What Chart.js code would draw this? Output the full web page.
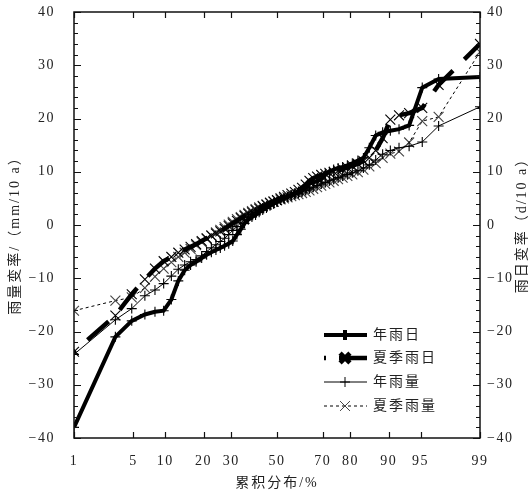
<!DOCTYPE html>
<html><head><meta charset="utf-8">
<script src="https://cdn.jsdelivr.net/npm/chart.js@4/dist/chart.umd.min.js"></script>
<style>html,body{margin:0;padding:0;background:#fff}</style>
</head><body>
<canvas id="c" width="531" height="499"></canvas>
<script>
// ---------- data ----------
const xTicks = [1, 5, 10, 20, 30, 50, 70, 80, 90, 95, 99];
const yTicks = [-40, -30, -20, -10, 0, 10, 20, 30, 40];
const seriesNames = ['年雨日', '夏季雨日', '年雨量', '夏季雨量'];
const xTitle = '累积分布/%';
const yLeftTitle = '雨量变率/（mm/10 a）';
const yRightTitle = '雨日变率（d/10 a）';

const cumPct = [1, 3.2, 4.8, 6.5, 8.1, 9.7, 11.3, 12.9, 14.5, 16.1, 17.7, 19.4, 21, 22.6, 24.2, 25.8, 27.4, 29, 30.6, 32.3,
  33.9, 35.5, 37.1, 38.7, 40.3, 41.9, 43.5, 45.2, 46.8, 48.4, 50, 51.6, 53.2, 54.8, 56.5, 58.1, 59.7, 61.3, 62.9, 64.5,
  66.1, 67.7, 69.4, 71, 72.6, 74.2, 75.8, 77.4, 79, 80.6, 82.3, 83.9, 85.5, 87.1, 88.7, 90.3, 91.9, 93.5, 95.2, 96.8, 99];

const annualRainDays = [-38, -21, -18, -16.8, -16.3, -16.1, -14, -10.5, -8.5, -7.5, -6.9, -6.2, -5.6, -5.1, -4.7, -4.3, -3.9, -3.5, -3.0, -1.8,
  -0.8, 0.3, 1.0, 1.5, 1.9, 2.4, 2.8, 3.2, 3.6, 4.0, 4.3, 4.7, 5.0, 5.3, 5.6, 6.0, 6.3, 6.5, 7.0, 7.8,
  8.0, 8.2, 8.6, 9.6, 10.0, 10.4, 10.7, 10.9, 11.2, 11.6, 12.1, 12.6, 14.5, 16.8, 17.4, 17.7, 18.0, 18.7, 25.8, 27.4, 27.8];

const summerRainDays = [-23.8, -17, -13, -10.2, -8.2, -6.8, -6.0, -5.2, -4.6, -4.1, -3.6, -3.0, -2.5, -2.0, -1.6, -1.2, -0.7, -0.2, 0.3, 0.8,
  1.3, 1.7, 2.1, 2.4, 2.8, 3.1, 3.5, 3.8, 4.1, 4.4, 4.7, 5.0, 5.3, 5.6, 5.9, 6.2, 6.6, 7.0, 7.6, 8.3,
  8.8, 9.1, 9.4, 9.6, 9.8, 10.0, 10.2, 10.5, 10.8, 11.1, 11.5, 12.0, 12.6, 14.0, 16.3, 19.8, 20.6, 21.0, 22.0, 26.3, 34];

const annualRainfall = [-24.3, -17.8, -15.7, -13.3, -12.2, -11.0, -9.6, -8.3, -7.5, -6.9, -6.5, -5.8, -5.0, -4.3, -3.7, -3.1, -2.5, -1.8, -1.0, -0.3,
  0.4, 1.0, 1.5, 2.0, 2.4, 2.8, 3.2, 3.5, 3.8, 4.1, 4.4, 4.7, 5.0, 5.2, 5.4, 5.7, 5.9, 6.2, 6.5, 6.8,
  7.1, 7.4, 7.7, 8.0, 8.3, 8.6, 8.9, 9.2, 9.5, 9.8, 10.2, 10.7, 11.3, 12.2, 13.3, 14.0, 14.5, 14.8, 15.6, 18.6, 22.2];

const summerRainfall = [-16.1, -14.2, -13.6, -11.8, -9.7, -8.2, -7.0, -6.0, -5.2, -4.5, -3.8, -3.2, -2.6, -2.0, -1.4, -0.9, -0.4, 0.1, 0.6, 1.1,
  1.5, 1.9, 2.3, 2.6, 3.0, 3.3, 3.6, 3.9, 4.2, 4.4, 4.6, 4.8, 5.0, 5.2, 5.4, 5.6, 5.8, 6.0, 6.2, 6.5,
  6.8, 7.1, 7.4, 7.7, 8.0, 8.3, 8.6, 8.9, 9.2, 9.5, 9.9, 10.4, 11.0, 11.6, 12.6, 13.4, 13.8, 15.5, 19.5, 20.3, 32.5];

// ---------- probability (probit) scale ----------
function probit(p) {
  const a = [-3.969683028665376e+01, 2.209460984245205e+02, -2.759285104469687e+02, 1.383577518672690e+02, -3.066479806614716e+01, 2.506628277459239e+00];
  const b = [-5.447609879822406e+01, 1.615858368580409e+02, -1.556989798598866e+02, 6.680131188771972e+01, -1.328068155288572e+01];
  const c = [-7.784894002430293e-03, -3.223964580411365e-01, -2.400758277161838e+00, -2.549732539343734e+00, 4.374664141464968e+00, 2.938163982698783e+00];
  const d = [7.784695709041462e-03, 3.224671290700398e-01, 2.445134137142996e+00, 3.754408661907416e+00];
  const pl = 0.02425, ph = 1 - pl;
  let q, r;
  if (p < pl) { q = Math.sqrt(-2 * Math.log(p)); return (((((c[0]*q+c[1])*q+c[2])*q+c[3])*q+c[4])*q+c[5]) / ((((d[0]*q+d[1])*q+d[2])*q+d[3])*q+1); }
  if (p <= ph) { q = p - 0.5; r = q*q; return (((((a[0]*r+a[1])*r+a[2])*r+a[3])*r+a[4])*r+a[5])*q / (((((b[0]*r+b[1])*r+b[2])*r+b[3])*r+b[4])*r+1); }
  q = Math.sqrt(-2 * Math.log(1 - p)); return -(((((c[0]*q+c[1])*q+c[2])*q+c[3])*q+c[4])*q+c[5]) / ((((d[0]*q+d[1])*q+d[2])*q+d[3])*q+1);
}
function normCdf(z) {
  const t = 1 / (1 + 0.2316419 * Math.abs(z));
  const y = 0.3989423 * Math.exp(-z*z/2) * t * (0.3193815 + t*(-0.3565638 + t*(1.781478 + t*(-1.821256 + t*1.330274))));
  return z > 0 ? 1 - y : y;
}
class ProbitScale extends Chart.Scale {
  determineDataLimits() { this.min = this.options.min; this.max = this.options.max; }
  buildTicks() { return xTicks.map(v => ({ value: v })); }
  getLabelForValue(v) { return String(v); }
  _z() { return [probit(this.min / 100), probit(this.max / 100)]; }
  getPixelForValue(v) { const [z0, z1] = this._z(); return this.getPixelForDecimal((probit(v / 100) - z0) / (z1 - z0)); }
  getValueForPixel(px) { const [z0, z1] = this._z(); return 100 * normCdf(z0 + this.getDecimalForPixel(px) * (z1 - z0)); }
}
ProbitScale.id = 'probit';
ProbitScale.defaults = {};
Chart.register(ProbitScale);

// ---------- helpers ----------
const pts = ys => cumPct.map((x, i) => ({ x, y: ys[i] }));
const NUM_FONT = '"Liberation Serif", "DejaVu Serif", serif';
const CJK_FONT = '"Liberation Serif", "Noto Sans CJK SC", sans-serif';
const TXT = '#222';

const styles = [
  { borderWidth: 4, borderDash: [], pointStyle: 'cross', pointRadius: 5, yAxisID: 'y2' },
  { borderWidth: 4.5, borderDash: [28, 16], borderDashOffset: 26, pointStyle: 'crossRot', pointRadius: 7, yAxisID: 'y2' },
  { borderWidth: 1, borderDash: [], pointStyle: 'cross', pointRadius: 5, yAxisID: 'y' },
  { borderWidth: 1, borderDash: [3, 3], pointStyle: 'crossRot', pointRadius: 7, yAxisID: 'y' }
];
const seriesData = [annualRainDays, summerRainDays, annualRainfall, summerRainfall];

const datasets = seriesData.map((ys, i) => Object.assign({
  label: seriesNames[i],
  data: pts(ys),
  borderColor: '#000',
  backgroundColor: '#000',
  pointBorderColor: i === 3 ? '#444' : '#000',
  pointBorderWidth: 1.1,
  tension: 0,
  fill: false
}, styles[i]));

const decorPlugin = {
  id: 'decor',
  beforeDraw(chart) { chart.ctx.letterSpacing = '1.5px'; },
  afterDatasetsDraw(chart) {
    const { ctx, chartArea: a, scales } = chart;
    ctx.save();
    ctx.strokeStyle = '#111';
    ctx.lineWidth = 1.5;
    ctx.strokeRect(a.left, a.top, a.right - a.left, a.bottom - a.top);
    ctx.lineWidth = 1.2;
    ctx.beginPath();
    xTicks.forEach(v => {
      const px = Math.round(scales.x.getPixelForValue(v)) + 0.5;
      ctx.moveTo(px, a.bottom); ctx.lineTo(px, a.bottom - 6);
      ctx.moveTo(px, a.top); ctx.lineTo(px, a.top + 6);
    });
    for (let v = yTicks[0]; v <= yTicks[yTicks.length - 1]; v += 2) {
      const py = Math.round(scales.y.getPixelForValue(v)) + 0.5;
      const L = v % 10 === 0 ? 7 : 4;
      ctx.moveTo(a.left, py); ctx.lineTo(a.left + L, py);
      ctx.moveTo(a.right, py); ctx.lineTo(a.right - L, py);
    }
    ctx.stroke();
    ctx.restore();
  },
  afterDraw(chart) {
    const { ctx, chartArea: a } = chart;
    ctx.save();
    ctx.fillStyle = TXT;
    ctx.letterSpacing = '2px';
    ctx.font = '14px ' + CJK_FONT;
    ctx.textAlign = 'center';
    ctx.textBaseline = 'middle';
    // axis titles
    ctx.fillText(xTitle, (a.left + a.right) / 2, 483);
    ctx.save(); ctx.translate(15, 232); ctx.rotate(-Math.PI / 2); ctx.fillText(yLeftTitle, 0, 0); ctx.restore();
    ctx.save(); ctx.translate(522, 222); ctx.rotate(-Math.PI / 2); ctx.fillText(yRightTitle, 0, 0); ctx.restore();
    // legend
    const rows = [335, 358, 382, 406];
    const x0 = 324, x1 = 367, xm = 345, xt = 373;
    datasets.forEach((ds, i) => {
      const y = rows[i];
      ctx.save();
      ctx.strokeStyle = '#000';
      ctx.lineWidth = ds.borderWidth;
      ctx.setLineDash(i === 1 ? [2, 13, 40] : ds.borderDash);
      ctx.beginPath(); ctx.moveTo(x0, y); ctx.lineTo(x1, y); ctx.stroke();
      ctx.setLineDash([]);
      ctx.strokeStyle = ds.pointBorderColor;
      Chart.helpers.drawPoint(ctx, { pointStyle: ds.pointStyle, radius: ds.pointRadius, borderWidth: 1.2, rotation: 0 }, xm, y);
      ctx.restore();
      ctx.textAlign = 'left';
      ctx.fillText(ds.label, xt, y);
    });
    ctx.restore();
  }
};

const fixVert = w => s => { s.width = w; s.paddingTop = 0; s.paddingBottom = 0; };

new Chart(document.getElementById('c'), {
  type: 'line',
  data: { datasets },
  plugins: [decorPlugin],
  options: {
    responsive: false,
    devicePixelRatio: 1,
    animation: false,
    layout: { padding: { top: 12, left: 0, right: 0, bottom: 0 } },
    plugins: { legend: { display: false }, tooltip: { enabled: false } },
    scales: {
      x: {
        type: 'probit', min: 1, max: 99, position: 'bottom',
        grid: { display: false, drawTicks: false },
        border: { display: false },
        ticks: { autoSkip: false, maxRotation: 0, padding: 15, color: TXT, font: { family: NUM_FONT, size: 14 }, callback: v => String(v) },
        afterFit: s => { s.height = 61; s.paddingLeft = 0; s.paddingRight = 0; }
      },
      y: {
        type: 'linear', position: 'left', min: -40, max: 40,
        afterBuildTicks: s => { s.ticks = yTicks.map(v => ({ value: v })); },
        grid: { display: false, drawTicks: false },
        border: { display: false },
        ticks: { padding: 19, color: TXT, font: { family: NUM_FONT, size: 14 }, callback: v => String(v).replace('-', '−') },
        afterFit: fixVert(74)
      },
      y2: {
        type: 'linear', position: 'right', min: -40, max: 40,
        afterBuildTicks: s => { s.ticks = yTicks.map(v => ({ value: v })); },
        grid: { display: false, drawTicks: false },
        border: { display: false },
        ticks: { padding: 7, color: TXT, font: { family: NUM_FONT, size: 14 }, callback: v => String(v).replace('-', '−') },
        afterFit: fixVert(51)
      }
    }
  }
});
</script>
</body></html>
